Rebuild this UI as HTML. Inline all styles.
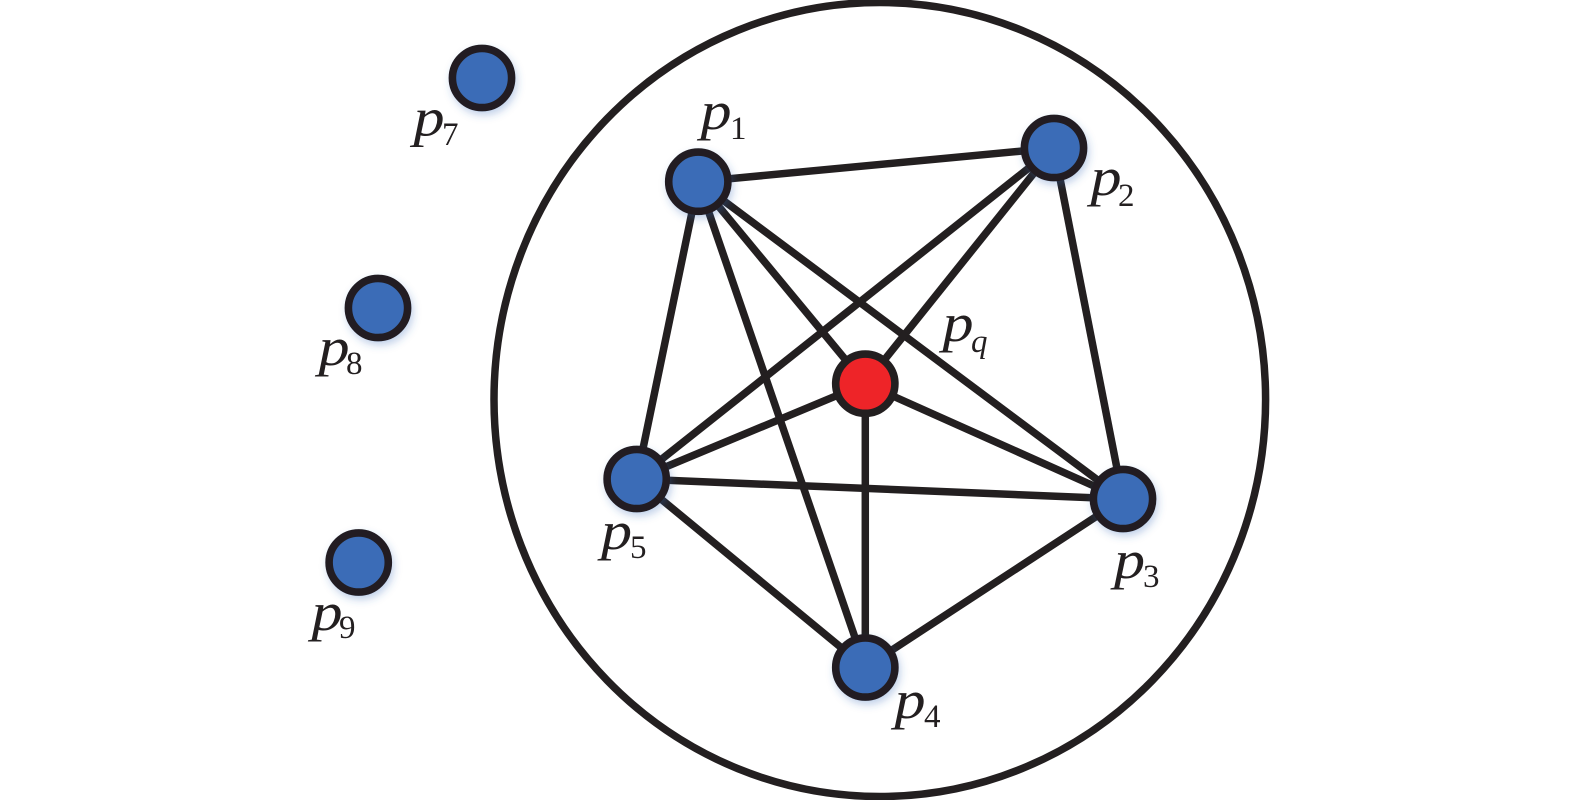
<!DOCTYPE html>
<html><head><meta charset="utf-8"><style>
html,body{margin:0;padding:0;background:#fff;width:1575px;height:800px;overflow:hidden}
svg{display:block}
.p{font:italic 54px "Liberation Serif",serif;fill:#231f20}
.s{font:33px "Liberation Serif",serif;fill:#231f20}
.q{font:italic 33px "Liberation Serif",serif;fill:#231f20}
line{stroke:#231f20;stroke-width:7.5}
.n{stroke:#231f20;stroke-width:7.6}
</style></head><body>
<svg width="1575" height="800" viewBox="0 0 1575 800" xmlns="http://www.w3.org/2000/svg">
<defs><filter id="g" x="-30%" y="-30%" width="160%" height="160%"><feDropShadow dx="2" dy="4" stdDeviation="4" flood-color="#3a6cb8" flood-opacity=".3"/></filter></defs>
<ellipse cx="879.8" cy="399.5" rx="385.8" ry="397" fill="none" stroke="#231f20" stroke-width="7.5"/>
<line x1="698.3" y1="181.7" x2="1054" y2="148"/>
<line x1="698.3" y1="181.7" x2="636.7" y2="479"/>
<line x1="698.3" y1="181.7" x2="865.3" y2="667.5"/>
<line x1="698.3" y1="181.7" x2="865.3" y2="383.7"/>
<line x1="698.3" y1="181.7" x2="1123" y2="499"/>
<line x1="1054" y1="148" x2="636.7" y2="479"/>
<line x1="1054" y1="148" x2="865.3" y2="383.7"/>
<line x1="1054" y1="148" x2="1123" y2="499"/>
<line x1="865.3" y1="383.7" x2="636.7" y2="479"/>
<line x1="865.3" y1="383.7" x2="1123" y2="499"/>
<line x1="865.3" y1="383.7" x2="865.3" y2="667.5"/>
<line x1="636.7" y1="479" x2="1123" y2="499"/>
<line x1="636.7" y1="479" x2="865.3" y2="667.5"/>
<line x1="1123" y1="499" x2="865.3" y2="667.5"/>
<g fill="#3b6cb7" filter="url(#g)">
<circle class="n" cx="698.3" cy="181.7" r="29.6"/>
<circle class="n" cx="1054" cy="148" r="29.6"/>
<circle class="n" cx="1123" cy="499" r="29.6"/>
<circle class="n" cx="865.3" cy="667.5" r="29.6"/>
<circle class="n" cx="636.7" cy="479" r="29.6"/>
<circle class="n" cx="482" cy="78" r="29.6"/>
<circle class="n" cx="378" cy="308" r="29.6"/>
<circle class="n" cx="358.7" cy="562.5" r="29.6"/>
</g>
<circle class="n" cx="865.3" cy="383.7" r="29.6" fill="#ee2428"/>
<text class="p" transform="translate(700.5 129) scale(1.15 1)">p</text><text class="s" x="730" y="139">1</text>
<text class="p" transform="translate(1090.5 195) scale(1.15 1)">p</text><text class="s" x="1118" y="206">2</text>
<text class="p" transform="translate(1114 578) scale(1.15 1)">p</text><text class="s" x="1143" y="587">3</text>
<text class="p" transform="translate(894.5 718) scale(1.15 1)">p</text><text class="s" x="924" y="727">4</text>
<text class="p" transform="translate(601 549) scale(1.15 1)">p</text><text class="s" x="630" y="558">5</text>
<text class="p" transform="translate(413.5 135.5) scale(1.15 1)">p</text><text class="s" x="442" y="145">7</text>
<text class="p" transform="translate(318.5 365) scale(1.15 1)">p</text><text class="s" x="346" y="374">8</text>
<text class="p" transform="translate(311.5 630) scale(1.15 1)">p</text><text class="s" x="339" y="638">9</text>
<text class="p" transform="translate(942.5 341) scale(1.15 1)">p</text><text class="q" x="971" y="352">q</text>
</svg>
</body></html>
